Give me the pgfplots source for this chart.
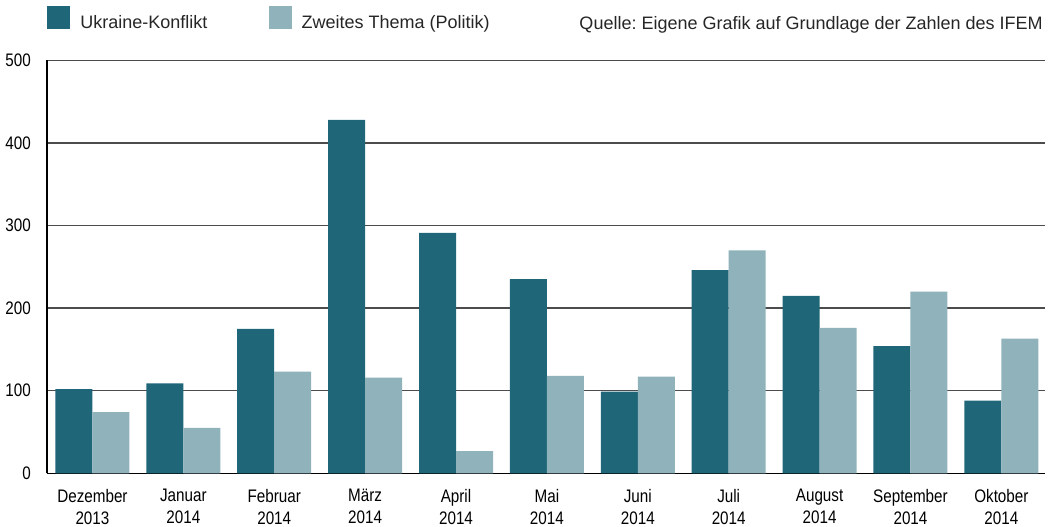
\documentclass[border=0pt]{standalone}
\usepackage{fontspec}
\setmainfont{Liberation Sans}
\newfontfamily\condfont[FakeStretch=0.84]{Liberation Sans}
\usepackage{pgfplots}
\pgfplotsset{compat=1.18}
\frenchspacing

\definecolor{ukraine}{RGB}{31,102,121}
\definecolor{zweites}{RGB}{143,178,187}

\begin{document}
\begin{tikzpicture}
\useasboundingbox (-35.25pt,-39.5pt) rectangle (756pt,355pt);
\begin{axis}[
    at={(0,0)}, anchor=south west,
    scale only axis,
    width=748.5pt, height=309.75pt,
    clip=false,
    ybar=0pt, bar width=27.75pt,
    xmin=-0.5, xmax=10.48,
    ymin=0, ymax=500,
    ytick={0,100,200,300,400,500},
    xtick=data,
    xticklabels={{Dezember\\2013},{Januar\\2014},{Februar\\2014},{März\\2014},{April\\2014},{Mai\\2014},{Juni\\2014},{Juli\\2014},{August\\2014},{September\\2014},{Oktober\\2014}},
    axis lines=left,
    axis line style={-, line width=1pt, black},
    major tick length=0pt,
    ymajorgrids,
    grid style={line width=1pt, black!70},
    /pgf/number format/assume math mode=true,
    yticklabel style={font=\condfont\fontsize{13.6}{16}\selectfont, inner sep=0pt, xshift=-12pt, anchor=east},
    xticklabel style={font=\condfont\fontsize{13.6}{16.5}\selectfont, align=center, inner sep=0pt, anchor=north, yshift=-11.5pt},
    legend style={at={(axis description cs:0,1.1315)}, anchor=north west,
        draw=none, inner sep=0pt, font=\fontsize{13.5}{16}\selectfont,
        legend columns=-1,
        nodes={inner sep=0pt, text=black!85},
        /tikz/every odd column/.append style={column sep=7.5pt},
        /tikz/every even column/.append style={column sep=46pt}},
    legend image code/.code={\fill[#1] (0pt,-4.5pt) rectangle (17.25pt,12.75pt);},
]
\addplot[fill=ukraine, draw=none] coordinates {
    (0,102) (1,109) (2,175) (3,428) (4,291) (5,235)
    (6,99) (7,246) (8,215) (9,154) (10,88)
};
\addlegendentry{Ukraine-Konflikt}
\addplot[fill=zweites, draw=none] coordinates {
    (0,74) (1,55) (2,123) (3,116) (4,27) (5,118)
    (6,117) (7,270) (8,176) (9,220) (10,163)
};
\addlegendentry{Zweites Thema (Politik)}
\node[anchor=base east, inner sep=0pt, font=\fontsize{13.5}{16}\selectfont, text=black!85]
    at (axis description cs:0.998,1.0758) {Quelle: Eigene Grafik auf Grundlage der Zahlen des IFEM};
\end{axis}
\end{tikzpicture}
\end{document}
